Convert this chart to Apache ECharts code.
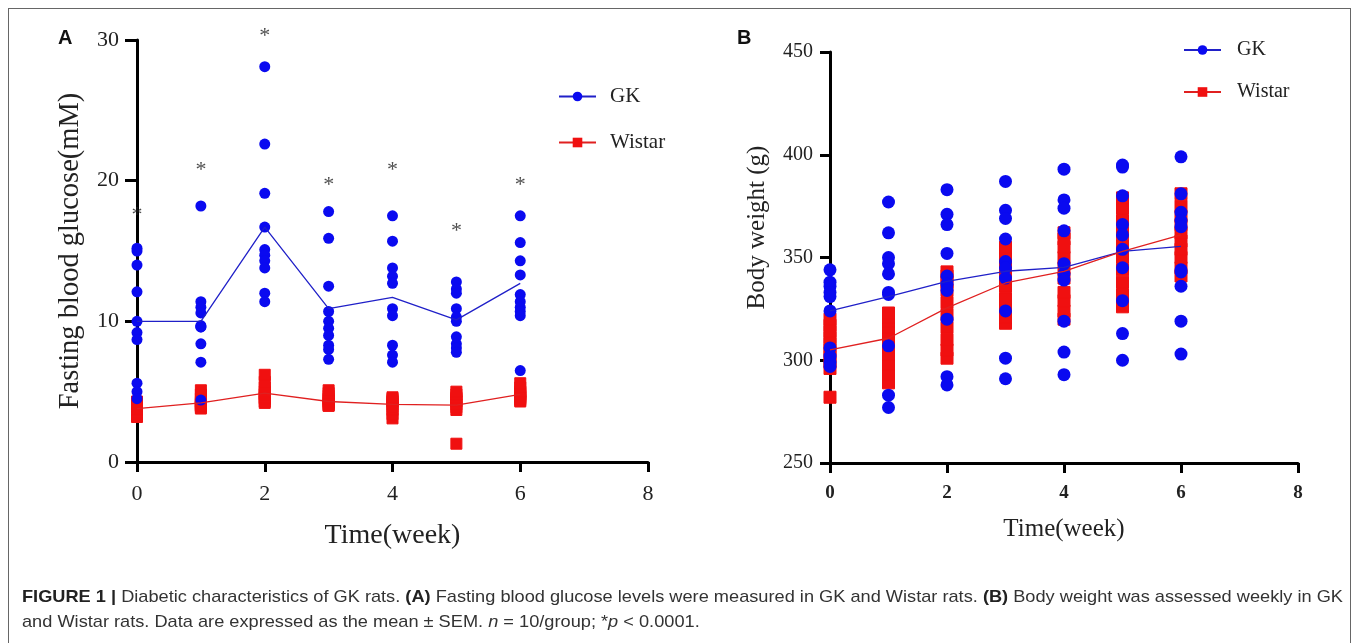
<!DOCTYPE html>
<html>
<head>
<meta charset="utf-8">
<script src="https://cdn.jsdelivr.net/npm/echarts@6/dist/echarts.min.js"></script>
<style>
  html, body { margin: 0; padding: 0; background: #fff; }
  #wrap { position: relative; width: 1358px; height: 643px; overflow: hidden; }
  #chart { position: absolute; left: 0; top: 0; width: 1358px; height: 643px; }
  #frame { position: absolute; left: 8px; top: 8px; width: 1343px; height: 700px; border: 1.5px solid #666; box-sizing: border-box; pointer-events: none; }
  .cap { position: absolute; left: 22px; white-space: nowrap; font-family: 'Liberation Sans Narrow', 'Liberation Sans', Arial, sans-serif; font-size: 17px; color: #333; transform-origin: 0 0; }
  .cap b { color: #222; }
</style>
</head>
<body>
<div id="wrap">
  <div id="chart"></div>
  <div id="frame"></div>
  <div class="cap" id="cap1" style="top:587px"><b>FIGURE 1 |</b> Diabetic characteristics of GK rats. <b>(A)</b> Fasting blood glucose levels were measured in GK and Wistar rats. <b>(B)</b> Body weight was assessed weekly in GK</div>
  <div class="cap" id="cap2" style="top:612px">and Wistar rats. Data are expressed as the mean ± SEM. <i>n</i> = 10/group; *<i>p</i> &lt; 0.0001.</div>
</div>
<script>
// ---------- data ----------
var weeks = [0, 1, 2, 3, 4, 5, 6];

// Panel A: fasting blood glucose (mM), individual rats per week
var glucoseGK = [
  [15.2, 15.0, 14.0, 12.1, 10.0, 9.2, 8.7, 5.6, 5.0, 4.5],
  [18.2, 11.4, 11.0, 10.6, 9.7, 9.6, 9.6, 8.4, 7.1, 4.4],
  [28.1, 22.6, 19.1, 16.7, 15.1, 14.7, 14.3, 13.8, 12.0, 11.4],
  [17.8, 15.9, 12.5, 10.7, 10.0, 9.5, 9.0, 8.3, 8.0, 7.3],
  [17.5, 15.7, 13.8, 13.2, 12.7, 10.9, 10.4, 8.3, 7.6, 7.1],
  [12.8, 12.3, 12.0, 10.9, 10.3, 10.0, 8.9, 8.4, 8.1, 7.8],
  [17.5, 15.6, 14.3, 13.3, 11.9, 11.4, 11.0, 10.7, 10.4, 6.5]
];
var glucoseWistar = [
  [3.2, 3.4, 3.5, 3.7, 3.8, 3.9, 4.0, 4.1, 4.2, 4.3],
  [3.8, 3.9, 4.0, 4.0, 4.1, 4.2, 4.3, 4.5, 4.8, 5.1],
  [4.2, 4.3, 4.5, 4.6, 4.8, 4.9, 5.0, 5.3, 5.7, 6.2],
  [4.0, 4.0, 4.1, 4.2, 4.3, 4.4, 4.5, 4.7, 4.9, 5.1],
  [3.1, 3.4, 3.7, 3.9, 4.1, 4.2, 4.3, 4.4, 4.5, 4.6],
  [1.3, 3.7, 3.9, 4.1, 4.3, 4.4, 4.5, 4.6, 4.8, 5.0],
  [4.3, 4.4, 4.5, 4.6, 4.7, 4.8, 4.9, 5.0, 5.3, 5.6]
];
var glucoseGKMean = [10.0, 10.0, 16.7, 10.9, 11.7, 10.1, 12.7];
var glucoseWistarMean = [3.8, 4.2, 4.9, 4.3, 4.1, 4.05, 4.8];
var glucoseStars = [18.0, 21.2, 30.7, 20.1, 21.2, 16.8, 20.1];

// Panel B: body weight (g)
var weightGK = [
  [344, 338, 336, 333, 331, 324, 306, 302, 299, 297],
  [377, 362, 350, 347, 342, 333, 332, 307, 283, 277],
  [383, 371, 366, 352, 341, 337, 334, 320, 292, 288],
  [387, 373, 369, 359, 348, 345, 340, 324, 301, 291],
  [393, 378, 374, 363, 347, 342, 339, 319, 304, 293],
  [395, 394, 380, 366, 361, 354, 345, 329, 313, 300],
  [399, 381, 372, 368, 365, 344, 343, 336, 319, 303]
];
var weightWistar = [
  [282, 296, 299, 302, 305, 308, 311, 314, 317, 320],
  [289, 293, 298, 303, 308, 312, 316, 319, 321, 323],
  [301, 305, 310, 316, 322, 328, 334, 338, 341, 343],
  [318, 321, 325, 330, 336, 340, 344, 348, 352, 355],
  [320, 324, 329, 333, 340, 345, 350, 355, 359, 362],
  [326, 332, 338, 344, 350, 356, 362, 368, 374, 379],
  [341, 345, 350, 354, 358, 362, 366, 370, 375, 381]
];
var weightGKMean = [324, 331, 338.4, 343.3, 345.2, 353, 355.4];
var weightWistarMean = [305, 310.7, 325.5, 337.6, 343.3, 353, 361];

// ---------- helpers ----------
function flatten(groups) {
  var out = [];
  groups.forEach(function (vals, i) {
    vals.forEach(function (v) { out.push([weeks[i], v]); });
  });
  return out;
}
function pairs(vals) { return vals.map(function (v, i) { return [weeks[i], v]; }); }

var BLUE = '#0a0af0';
var RED = '#f01010';
var SERIF = "'Liberation Serif', 'Times New Roman', serif";

var chart = echarts.init(document.getElementById('chart'), null, { renderer: 'canvas' });

function valueAxisX(gridIndex, bold, fontSize, margin, nameGap, nameSize) {
  return {
    type: 'value', gridIndex: gridIndex, min: 0, max: 8, interval: 2,
    name: 'Time(week)', nameLocation: 'middle', nameGap: nameGap,
    nameTextStyle: { fontFamily: SERIF, fontSize: nameSize, color: '#222' },
    axisLine: { show: true, onZero: false, lineStyle: { color: '#000', width: 3 } },
    axisTick: { show: true, length: 10, lineStyle: { color: '#000', width: 3 } },
    axisLabel: { fontFamily: SERIF, fontSize: fontSize, fontWeight: bold ? 'bold' : 'normal', color: '#222', margin: margin },
    splitLine: { show: false }
  };
}

var option = {
  animation: false,
  backgroundColor: '#fff',
  grid: [
    { left: 137, top: 40, width: 511, height: 422 },
    { left: 830, top: 52, width: 468, height: 411 }
  ],
  xAxis: [
    valueAxisX(0, false, 22, 21, 60, 28),
    valueAxisX(1, true, 19, 21, 54, 25)
  ],
  yAxis: [
    {
      type: 'value', gridIndex: 0, min: 0, max: 30, interval: 10,
      name: 'Fasting blood glucose(mM)', nameLocation: 'middle', nameGap: 52, nameRotate: 90,
      nameTextStyle: { fontFamily: SERIF, fontSize: 28.5, color: '#222' },
      axisLine: { show: true, onZero: false, lineStyle: { color: '#000', width: 3 } },
      axisTick: { show: true, length: 12, lineStyle: { color: '#000', width: 3 } },
      axisLabel: { fontFamily: SERIF, fontSize: 22, color: '#222', margin: 18 },
      splitLine: { show: false }
    },
    {
      type: 'value', gridIndex: 1, min: 250, max: 450, interval: 50,
      name: 'Body weight (g)', nameLocation: 'middle', nameGap: 60, nameRotate: 90,
      nameTextStyle: { fontFamily: SERIF, fontSize: 25, color: '#222', padding: [0, 0, 0, 60] },
      axisLine: { show: true, onZero: false, lineStyle: { color: '#000', width: 3 } },
      axisTick: { show: true, length: 10, lineStyle: { color: '#000', width: 3 } },
      axisLabel: { fontFamily: SERIF, fontSize: 20, color: '#222', margin: 17 },
      splitLine: { show: false }
    }
  ],
  legend: [
    {
      left: 553, top: 81, orient: 'vertical', itemGap: 25, itemWidth: 37, itemHeight: 12,
      data: ['GK', 'Wistar'], selectedMode: false,
      textStyle: { fontFamily: SERIF, fontSize: 21, color: '#222', padding: [0, 0, 0, 9] }
    },
    {
      left: 1178, top: 35, orient: 'vertical', itemGap: 22, itemWidth: 37, itemHeight: 12,
      data: ['GK', 'Wistar'], selectedMode: false,
      textStyle: { fontFamily: SERIF, fontSize: 20, color: '#222', padding: [0, 0, 0, 11] }
    }
  ],
  graphic: [
    { type: 'text', left: 58, top: 28, style: { text: 'A', font: "bold 20px 'Liberation Sans', Arial, sans-serif", fill: '#111' } },
    { type: 'text', left: 737, top: 28, style: { text: 'B', font: "bold 20px 'Liberation Sans', Arial, sans-serif", fill: '#111' } }
  ],
  series: [
    // ---- Panel A ----
    { name: 'Wistar points', type: 'scatter', xAxisIndex: 0, yAxisIndex: 0, symbol: 'rect', symbolSize: 11,
      itemStyle: { color: RED, opacity: 1, borderColor: RED, borderWidth: 1 }, data: flatten(glucoseWistar), z: 2 },
    { name: 'GK points', type: 'scatter', xAxisIndex: 0, yAxisIndex: 0, symbol: 'circle', symbolSize: 11,
      itemStyle: { color: BLUE, opacity: 1 }, data: flatten(glucoseGK), z: 3 },
    { name: 'GK', type: 'line', xAxisIndex: 0, yAxisIndex: 0, symbol: 'circle', symbolSize: 11, showSymbol: false,
      itemStyle: { color: BLUE }, lineStyle: { color: '#2020c8', width: 1.3 }, data: pairs(glucoseGKMean), z: 4 },
    { name: 'Wistar', type: 'line', xAxisIndex: 0, yAxisIndex: 0, symbol: 'rect', symbolSize: 11, showSymbol: false,
      itemStyle: { color: RED }, lineStyle: { color: '#e02020', width: 1.3 }, data: pairs(glucoseWistarMean), z: 4 },
    { name: 'sig A', type: 'scatter', xAxisIndex: 0, yAxisIndex: 0, symbolSize: 1, itemStyle: { color: 'rgba(0,0,0,0)' },
      clip: false, data: pairs(glucoseStars), z: 5,
      label: { show: true, position: 'inside', offset: [0, 6], formatter: '*', fontFamily: SERIF, fontSize: 22, color: '#222' } },
    // ---- Panel B ----
    { name: 'Wistar points B', type: 'scatter', xAxisIndex: 1, yAxisIndex: 1, symbol: 'rect', symbolSize: 12,
      itemStyle: { color: RED, opacity: 1, borderColor: RED, borderWidth: 1 }, data: flatten(weightWistar), z: 2 },
    { name: 'GK points B', type: 'scatter', xAxisIndex: 1, yAxisIndex: 1, symbol: 'circle', symbolSize: 13,
      itemStyle: { color: BLUE, opacity: 1 }, data: flatten(weightGK), z: 3 },
    { name: 'GK', type: 'line', xAxisIndex: 1, yAxisIndex: 1, symbol: 'circle', symbolSize: 11, showSymbol: false,
      itemStyle: { color: BLUE }, lineStyle: { color: '#2020c8', width: 1.3 }, data: pairs(weightGKMean), z: 4 },
    { name: 'Wistar', type: 'line', xAxisIndex: 1, yAxisIndex: 1, symbol: 'rect', symbolSize: 11, showSymbol: false,
      itemStyle: { color: RED }, lineStyle: { color: '#e02020', width: 1.3 }, data: pairs(weightWistarMean), z: 4 }
  ]
};
chart.setOption(option);

// fit caption line 1 to the reference width; apply same scale to line 2
(function () {
  var c1 = document.getElementById('cap1');
  var c2 = document.getElementById('cap2');
  var w = c1.scrollWidth;
  var s = 1321 / w;
  c1.style.transform = 'scaleX(' + s + ')';
  c2.style.transform = 'scaleX(' + s + ')';
})();
</script>
</body>
</html>
